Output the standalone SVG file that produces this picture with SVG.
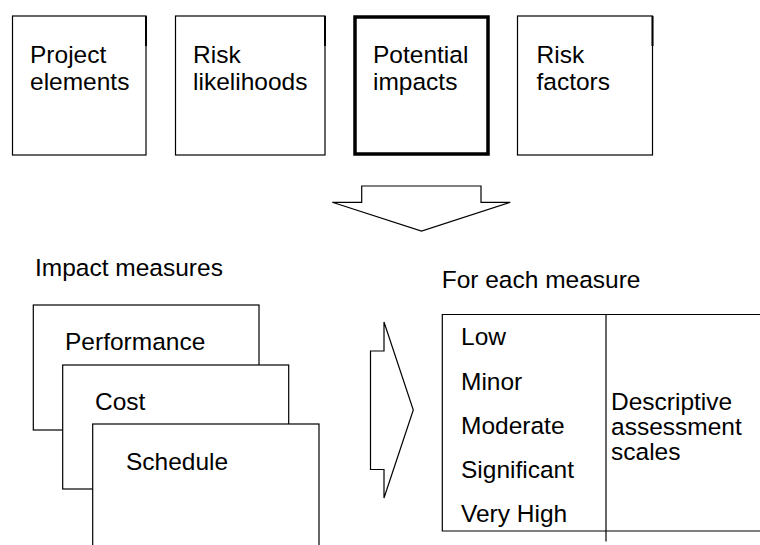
<svg xmlns="http://www.w3.org/2000/svg" width="760" height="545" viewBox="0 0 760 545">
<style>
  .box{fill:#fff;stroke:#000;stroke-width:1.2}
  .thick{fill:#fff;stroke:#000;stroke-width:3.5}
  .ln{fill:none;stroke:#000;stroke-width:1.2}
  .edge{stroke:#000;stroke-width:2}
  text{font-family:"Liberation Sans",Arial,sans-serif;font-size:24.5px;fill:#000}
</style>
<rect width="760" height="545" fill="#fff"/>
<g id="project-elements">
  <rect class="box" x="12.5" y="16" width="133.5" height="139"/>
  <line class="edge" x1="146" y1="16" x2="146" y2="46"/>
  <text x="30" y="63">Project</text>
  <text x="30" y="90">elements</text>
</g>
<g id="risk-likelihoods">
  <rect class="box" x="175.5" y="16" width="149.5" height="139"/>
  <line class="edge" x1="325" y1="16" x2="325" y2="46"/>
  <text x="193" y="63">Risk</text>
  <text x="193" y="90">likelihoods</text>
</g>
<g id="potential-impacts">
  <rect class="thick" x="355" y="17" width="133" height="137"/>
  <text x="373" y="63">Potential</text>
  <text x="373" y="90">impacts</text>
</g>
<g id="risk-factors">
  <rect class="box" x="517.5" y="16" width="135" height="139"/>
  <line class="edge" x1="652.5" y1="16" x2="652.5" y2="46"/>
  <text x="536.5" y="63">Risk</text>
  <text x="536.5" y="90">factors</text>
</g>
<g id="connectors">
  <polygon class="ln" points="361.7,186 481,186 481,202.3 510.3,202.3 421.5,231 332.3,202.3 361.7,202.3"/>
  <polygon class="ln" points="370.5,351 384,351 384,322 413.3,410 384,498 384,469.5 370.5,469.5"/>
</g>
<text id="impact-measures-label" x="35" y="276">Impact measures</text>
<g id="performance">
  <rect class="box" x="33.3" y="305" width="225.7" height="125"/>
  <text x="65" y="350">Performance</text>
</g>
<g id="cost">
  <rect class="box" x="62.7" y="365" width="226" height="124"/>
  <text x="95" y="410">Cost</text>
</g>
<g id="schedule">
  <rect class="box" x="92.7" y="424" width="226.3" height="140"/>
  <text x="126" y="469.5">Schedule</text>
</g>
<text id="for-each-label" x="441.7" y="288">For each measure</text>
<g id="scale-table">
  <polyline class="ln" points="770,314.5 442.3,314.5 442.3,531 770,531"/>
  <line class="ln" x1="606" y1="314.5" x2="606" y2="541.5"/>
  <text x="461" y="345">Low</text>
  <text x="461" y="389.5">Minor</text>
  <text x="461" y="434">Moderate</text>
  <text x="461" y="478">Significant</text>
  <text x="461" y="522">Very High</text>
  <text x="611" y="409.5">Descriptive</text>
  <text x="611" y="434.5">assessment</text>
  <text x="611" y="460">scales</text>
</g>
</svg>
